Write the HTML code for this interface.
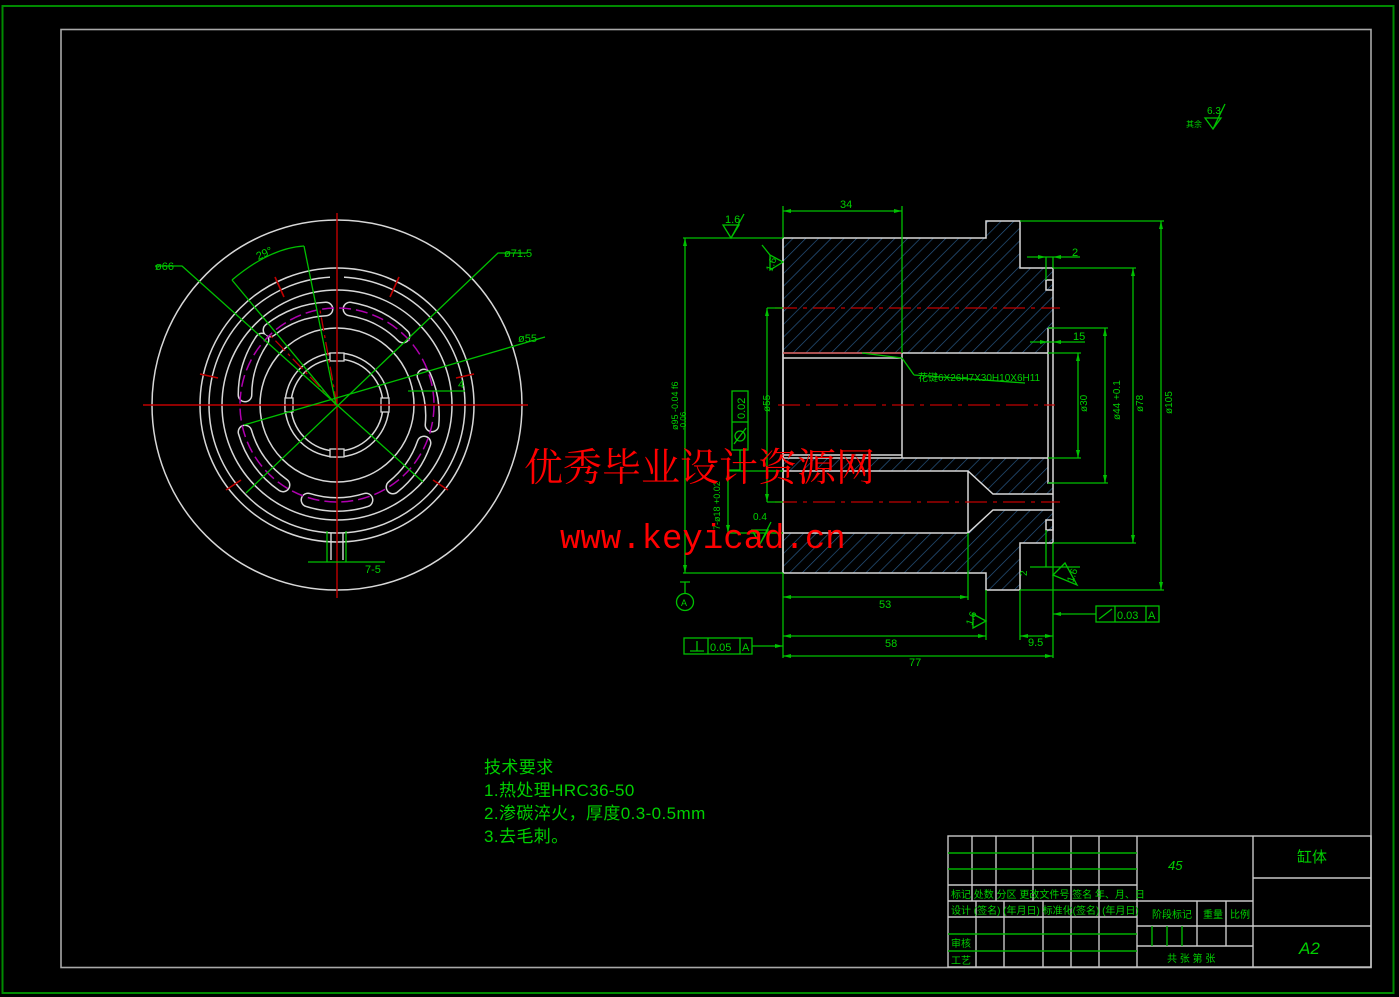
<!DOCTYPE html>
<html><head><meta charset="utf-8"><style>
html,body{margin:0;padding:0;background:#000;}
svg{display:block}
</style></head><body>
<svg width="1399" height="997" viewBox="0 0 1399 997" xmlns="http://www.w3.org/2000/svg" font-family="Liberation Sans, Noto Sans CJK SC, sans-serif">
<defs>
<pattern id="h" patternUnits="userSpaceOnUse" width="9" height="9" patternTransform="rotate(45)">
<line x1="0" y1="0" x2="0" y2="9" stroke="#2a5c8c" stroke-width="1.3"/>
</pattern>
</defs>
<rect width="1399" height="997" fill="#000"/>
<rect x="2.5" y="6" width="1391" height="987" fill="none" stroke="#008a00" stroke-width="2"/>
<rect x="61" y="29.5" width="1310" height="938" fill="none" stroke="#a8a8a8" stroke-width="1.6"/>

<!-- LEFT VIEW -->
<g fill="none" stroke="#d8d8d8" stroke-width="1.5">
<circle cx="337" cy="405" r="185"/>
<circle cx="337" cy="405" r="137"/>
<circle cx="337" cy="405" r="128"/>
<circle cx="337" cy="405" r="115"/>
<circle cx="337" cy="405" r="77"/>
<circle cx="337" cy="405" r="52"/>
<circle cx="337" cy="405" r="46"/>
</g>
<g stroke="#000" stroke-width="9" fill="none">
<path d="M330 277 L344 277"/>
</g>
<g fill="none" stroke="#d8d8d8" stroke-width="1.4">
<path d="M331 533 L331 560 M343 533 L343 560"/>
</g>
<g fill="none" stroke-linecap="round">
<g stroke="#d8d8d8" stroke-width="15">
<path d="M245 395 A97 97 0 0 1 262 340"/>
<path d="M270 330 A97 97 0 0 1 326 309"/>
<path d="M350 309 A97 97 0 0 1 403 336"/>
<path d="M424 376 A97 97 0 0 1 432 425"/>
<path d="M424 443 A97 97 0 0 1 393 487"/>
<path d="M308 500 A97 97 0 0 0 366 500"/>
<path d="M245 432 A97 97 0 0 0 283 485"/>
</g>
<g stroke="#000" stroke-width="12">
<path d="M245 395 A97 97 0 0 1 262 340"/>
<path d="M270 330 A97 97 0 0 1 326 309"/>
<path d="M350 309 A97 97 0 0 1 403 336"/>
<path d="M424 376 A97 97 0 0 1 432 425"/>
<path d="M424 443 A97 97 0 0 1 393 487"/>
<path d="M308 500 A97 97 0 0 0 366 500"/>
<path d="M245 432 A97 97 0 0 0 283 485"/>
</g>
</g>
<circle cx="337" cy="405" r="97" fill="none" stroke="#b000b0" stroke-width="1.5" stroke-dasharray="12 5"/>
<g fill="#000" stroke="#d8d8d8" stroke-width="1.3">
<rect x="330" y="353" width="14" height="8"/>
<rect x="330" y="449" width="14" height="8"/>
<rect x="285" y="398" width="8" height="14"/>
<rect x="381" y="398" width="8" height="14"/>
</g>
<g stroke="#c00000" stroke-width="1.6">
<line x1="275" y1="277" x2="284" y2="297"/><line x1="399" y1="277" x2="390" y2="297"/>
<line x1="200" y1="374" x2="218" y2="378"/><line x1="474" y1="374" x2="456" y2="378"/>
<line x1="226" y1="490" x2="241" y2="480"/><line x1="448" y1="490" x2="433" y2="480"/>
</g>
<g stroke="#c00000" stroke-width="1.4">
<line x1="143" y1="405" x2="528" y2="405"/>
<line x1="337" y1="213" x2="337" y2="598"/>
</g>
<g stroke="#c00000" stroke-width="1.3" stroke-dasharray="14 4 3 4">
<line x1="337" y1="405" x2="320" y2="310"/><line x1="337" y1="405" x2="270" y2="335"/>
</g>
<g stroke="#00c000" stroke-width="1.3" fill="none">
<path d="M155 266 L182 266 L423 482"/>
<path d="M527 253 L498 253 L246 493"/>
<path d="M545 337 L244 425"/>
<path d="M232 280 Q270 248 304 246"/>
<path d="M232 280 L336 405"/><path d="M304 246 L336 405"/>
<path d="M308 562 L358 562 L385 562"/>
<path d="M408 391 L465 391"/>
<path d="M327 531 L327 562 M346 531 L346 562"/>
</g>
<g fill="#00d000" font-size="11">
<text x="155" y="270">ø66</text>
<text x="504" y="257">ø71.5</text>
<text x="518" y="342">ø55</text>
<text x="256" y="258" transform="rotate(-25 262 254)">29°</text>
<text x="365" y="573">7-5</text>
<text x="458" y="388">4</text>
</g>

<!-- SECTION VIEW -->
<path d="M783 238 L986 238 L986 221 L1020 221 L1020 268 L1053 268 L1053 328 L1048 328 L1048 353 L783 353 Z" fill="url(#h)"/>
<path d="M783 458 L1048 458 L1048 483 L1053 483 L1053 494 L993 494 L968 471 L783 471 Z" fill="url(#h)"/>
<path d="M783 533 L968 533 L993 510 L1053 510 L1053 543 L1020 543 L1020 590 L986 590 L986 573 L783 573 Z" fill="url(#h)"/>
<g fill="none" stroke="#d8d8d8" stroke-width="1.5">
<path d="M783 238 L986 238 L986 221 L1020 221 L1020 268 L1053 268 L1053 543 L1020 543 L1020 590 L986 590 L986 573 L783 573 Z"/>
<path d="M783 353 L1048 353 M783 358 L902 358 M902 353 L902 458 M783 458 L1048 458 M783 455 L902 455"/>
<path d="M1048 328 L1053 328 M1048 328 L1048 483 L1053 483"/>
<path d="M783 471 L968 471 L993 494 L1053 494 M783 533 L968 533 L993 510 L1053 510 M968 471 L968 533"/>
<path d="M1046 280 L1053 280 L1053 290 L1046 290 Z M1046 520 L1053 520 L1053 530 L1046 530 Z"/>
<path d="M783 238 L783 573"/>
</g>
<line x1="783" y1="353" x2="902" y2="353" stroke="#d04040" stroke-width="1.3"/>
<g stroke="#c00000" stroke-width="1.3" stroke-dasharray="22 6 4 6">
<line x1="775" y1="308" x2="1060" y2="308"/>
<line x1="778" y1="405" x2="1055" y2="405"/>
<line x1="775" y1="502" x2="1060" y2="502"/>
</g>

<g stroke="#00c000" stroke-width="1.3" fill="none">
<path d="M783 211 L902 211 M783 206 L783 238 M902 206 L902 353"/>
<path d="M685 238 L685 573 M683 238 L783 238 M683 573 L783 573"/>
<path d="M767 308 L767 502 M767 308 L783 308 M767 502 L783 502"/>
<path d="M728 471 L728 533 M728 471 L783 471 M728 533 L783 533"/>
<path d="M783 573 L783 658 M968 533 L968 600 M986 590 L986 640 M1020 590 L1020 640 M1053 543 L1053 658"/>
<path d="M783 597 L968 597 M783 636 L986 636 M1020 636 L1053 636 M783 656 L1053 656"/>
<path d="M1020 221 L1164 221 M1161 221 L1161 590 M1020 590 L1164 590"/>
<path d="M1053 268 L1136 268 M1133 268 L1133 543 M1053 543 L1136 543"/>
<path d="M1048 328 L1108 328 M1105 328 L1105 483 M1048 483 L1108 483"/>
<path d="M1048 353 L1081 353 M1078 353 L1078 458 M1048 458 L1081 458"/>
<path d="M1027 257 L1080 257 M1046 257 L1046 280 M1053 257 L1053 268"/>
<path d="M1030 342 L1085 342"/>
<path d="M1030 567 L1080 567 M1046 530 L1046 567"/>
<path d="M914 375 L902 358 M914 375 L1025 383 M902 358 L862 353"/>
<path d="M685 582 L685 593 M680 582 L690 582"/>
<path d="M752 646 L783 646 M1053 614 L1096 614"/>
<path d="M740 450 L740 470 L728 470"/>
</g>
<circle cx="685" cy="602" r="8.5" fill="none" stroke="#00c000" stroke-width="1.3"/>
<text x="681" y="606" font-size="9" fill="#00d000">A</text>
<g fill="#00c000">
<path d="M783 211 l8 -2 v4z M902 211 l-8 -2 v4z M685 238 l-2 8 h4z M685 573 l-2 -8 h4z M767 308 l-2 8 h4z M767 502 l-2 -8 h4z M728 471 l-2 8 h4z M728 533 l-2 -8 h4z"/>
<path d="M783 597 l8 -2 v4z M968 597 l-8 -2 v4z M783 636 l8 -2 v4z M986 636 l-8 -2 v4z M783 656 l8 -2 v4z M1053 656 l-8 -2 v4z M1020 636 l8 -2 v4z M1053 636 l-8 -2 v4z"/>
<path d="M1161 221 l-2 8 h4z M1161 590 l-2 -8 h4z M1133 268 l-2 8 h4z M1133 543 l-2 -8 h4z M1105 328 l-2 8 h4z M1105 483 l-2 -8 h4z M1078 353 l-2 8 h4z M1078 458 l-2 -8 h4z"/>
<path d="M1046 257 l-8 -2 v4z M1053 257 l8 -2 v4z M1048 342 l-8 -2 v4z M1053 342 l8 -2 v4z M783 646 l-8 -2 v4z M1053 614 l8 -2 v4z"/>
</g>
<g stroke="#00c000" stroke-width="1.3" fill="none">
<path d="M723 225 L731 238 L739 225 Z M731 238 L744 214"/>
<path d="M783 262 L770 255 L770 270 Z M770 255 L762 245"/>
<path d="M752 530 L760 544 L768 530 Z M760 544 L771 522"/>
<path d="M986 621 L973 614 L973 628 Z"/>
<path d="M1053 575 L1065 563 L1077 585 Z"/>
<path d="M1205 118 L1213 129 L1221 118 Z M1213 129 L1225 104"/>
</g>
<g fill="#00d000" font-size="11">
<text x="840" y="208">34</text>
<text x="725" y="223">1.6</text>
<text x="879" y="608">53</text>
<text x="885" y="647">58</text>
<text x="909" y="666">77</text>
<text x="1028" y="646">9.5</text>
<text x="1072" y="256">2</text>
<text x="1073" y="340">15</text>
<text x="753" y="520" font-size="10">0.4</text>
<text x="1207" y="114" font-size="10">6.3</text>
<text x="1186" y="127" font-size="8">其余</text>
<text x="918" y="381" font-size="10">花键6X26H7X30H10X6H11</text>
<text transform="translate(770 412) rotate(-90)" font-size="10">ø55</text>
<text transform="translate(678 430) rotate(-90)" font-size="9">ø95 -0.04 f6</text>
<text transform="translate(686 430) rotate(-90)" font-size="8">-0.06</text>
<text transform="translate(720 530) rotate(-90)" font-size="9">7-ø18 +0.02</text>
<text transform="translate(1087 412) rotate(-90)" font-size="10">ø30</text>
<text transform="translate(1120 420) rotate(-90)" font-size="10">ø44 +0.1</text>
<text transform="translate(1143 412) rotate(-90)" font-size="10">ø78</text>
<text transform="translate(1172 414) rotate(-90)" font-size="10">ø105</text>
<text transform="translate(772 272) rotate(-70)" font-size="10">1.6</text>
<text transform="translate(972 626) rotate(-70)" font-size="10">1.6</text>
<text transform="translate(1073 583) rotate(-70)" font-size="10">1.6</text>
<text transform="translate(1027 576) rotate(-90)" font-size="10">2</text>
</g>
<g stroke="#00c000" stroke-width="1.3" fill="none">
<rect x="684" y="638" width="68" height="16"/><path d="M708 638 V654 M740 638 V654 M690 651 H704 M697 651 V641"/>
<rect x="1096" y="606" width="63" height="16"/><path d="M1115 606 V622 M1146 606 V622 M1099 619 L1112 609"/>
<rect x="732" y="391" width="16" height="59"/><path d="M732 422 H748"/>
<circle cx="740" cy="436" r="5"/><path d="M734 444 L746 428"/>
</g>
<g fill="#00d000" font-size="11">
<text x="710" y="651">0.05</text><text x="742" y="651">A</text>
<text x="1117" y="619">0.03</text><text x="1148" y="619">A</text>
<text transform="translate(745 419) rotate(-90)">0.02</text>
</g>

<g fill="#00d000" font-size="17" style="font-family:'Liberation Sans','Noto Sans CJK SC',sans-serif;letter-spacing:0.4px">
<text x="484" y="773">技术要求</text>
<text x="484" y="796">1.热处理HRC36-50</text>
<text x="484" y="819">2.渗碳淬火，厚度0.3-0.5mm</text>
<text x="484" y="842">3.去毛刺。</text>
</g>

<g stroke="#c8c8c8" stroke-width="1.4" fill="none">
<rect x="948" y="836" width="423" height="131"/>
<path d="M948 885 H1137 M948 901 H1137 M948 917 H1137 M1137 836 V967 M1253 836 V967 M1253 878 H1371 M1137 901 H1253 M1137 926 H1371 M1137 946 H1253"/>
<path d="M972 836 V901 M996 836 V901 M1033 836 V901 M1071 836 V901 M1099 836 V901"/>
<path d="M976 901 V967 M1004 901 V967 M1043 901 V967 M1071 901 V967 M1099 901 V967"/>
<path d="M1197 901 V946 M1226 901 V946"/>
</g>
<g stroke="#00b000" stroke-width="1.4">
<path d="M948 853 H1137 M948 869 H1137 M948 934 H1137 M948 951 H1137 M1152 926 V946 M1167 926 V946 M1182 926 V946"/>
</g>
<g fill="#00d000" font-size="10">
<text x="951" y="898">标记 处数  分区  更改文件号 签名 年、月、日</text>
<text x="951" y="914">设计 (签名) (年月日) 标准化(签名) (年月日)</text>
<text x="951" y="947">审核</text>
<text x="951" y="964">工艺</text>
<text x="1152" y="918">阶段标记</text>
<text x="1203" y="918">重量</text>
<text x="1230" y="918">比例</text>
<text x="1167" y="962">共  张  第  张</text>
<text x="1168" y="870" font-size="13" font-style="italic">45</text>
<text x="1297" y="862" font-size="15">缸体</text>
<text x="1299" y="954" font-size="17" font-style="italic">A2</text>
</g>

<text x="524" y="481" font-size="39" fill="#ff0000" style="font-family:'Noto Serif CJK SC','Liberation Serif',serif">优秀毕业设计资源网</text>
<text x="560" y="548" font-size="34" fill="#ff0000" style="font-family:'Liberation Mono',monospace">www.keyicad.cn</text>
</svg>
</body></html>
